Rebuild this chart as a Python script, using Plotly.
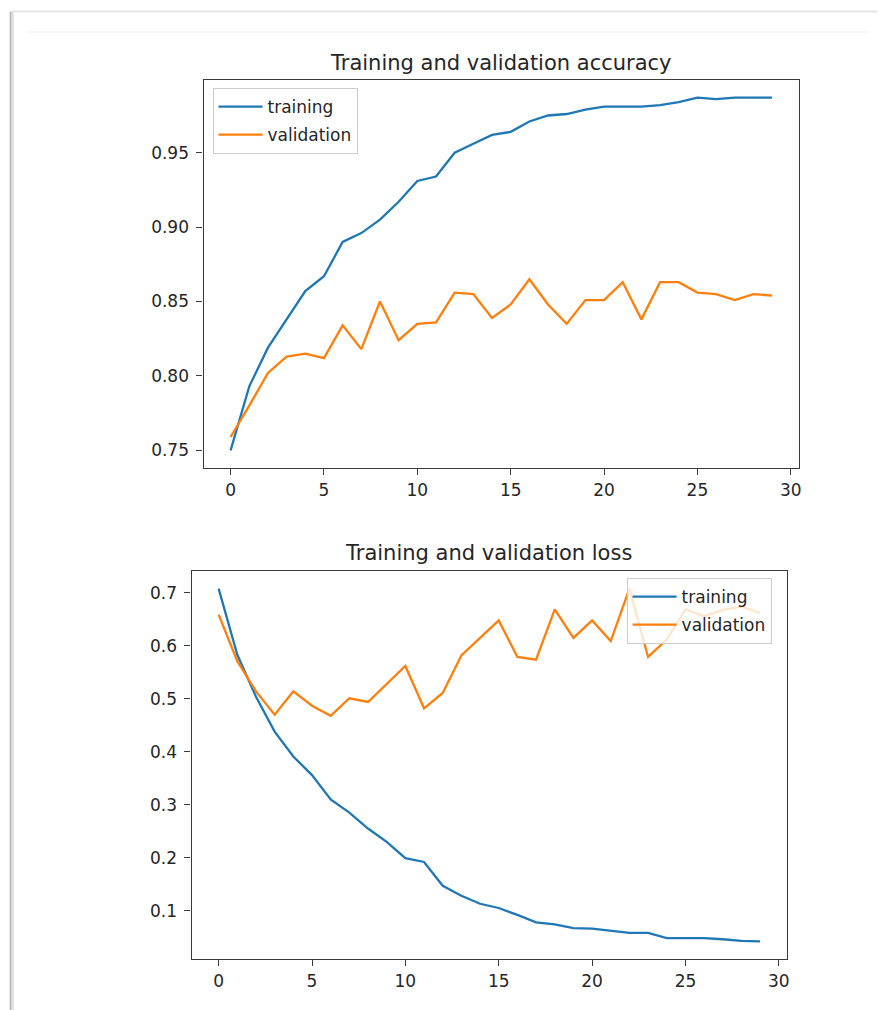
import plotly.graph_objects as go

epochs = list(range(30))

train_acc = [0.750, 0.793, 0.819, 0.838, 0.857, 0.867, 0.890, 0.896, 0.905, 0.917,
             0.931, 0.934, 0.950, 0.956, 0.962, 0.964, 0.971, 0.975, 0.976, 0.979,
             0.981, 0.981, 0.981, 0.982, 0.984, 0.987, 0.986, 0.987, 0.987, 0.987]
val_acc = [0.759, 0.780, 0.802, 0.813, 0.815, 0.812, 0.834, 0.818, 0.850, 0.824,
           0.835, 0.836, 0.856, 0.855, 0.839, 0.848, 0.865, 0.848, 0.835, 0.851,
           0.851, 0.863, 0.838, 0.863, 0.863, 0.856, 0.855, 0.851, 0.855, 0.854]

train_loss = [0.708, 0.583, 0.504, 0.438, 0.391, 0.356, 0.310, 0.285, 0.255, 0.230,
              0.199, 0.192, 0.147, 0.128, 0.113, 0.105, 0.092, 0.078, 0.074, 0.067,
              0.066, 0.062, 0.058, 0.058, 0.048, 0.048, 0.048, 0.046, 0.043, 0.042]
val_loss = [0.659, 0.571, 0.514, 0.470, 0.514, 0.487, 0.468, 0.501, 0.494, 0.528,
            0.562, 0.482, 0.511, 0.582, 0.615, 0.648, 0.579, 0.574, 0.669, 0.615,
            0.648, 0.609, 0.708, 0.579, 0.612, 0.669, 0.656, 0.668, 0.674, 0.662]

x_ticks = [0, 5, 10, 15, 20, 25, 30]
acc_ticks = [0.75, 0.80, 0.85, 0.90, 0.95]
loss_ticks = [0.1, 0.2, 0.3, 0.4, 0.5, 0.6, 0.7]

W, H = 879, 1010
BLUE = "#1f77b4"
ORANGE = "#ff7f0e"
FONT = "DejaVu Sans"
TXT = "#262626"
AX = "#3a3a3a"


def px(x):
    return x / W


def py(y):
    return 1 - y / H


def rng(vals):
    lo, hi = min(vals), max(vals)
    m = (hi - lo) * 0.05
    return [lo - m, hi + m]


fig = go.Figure()

series = [
    (train_acc, "training", BLUE, "x", "y", "legend", "a1"),
    (val_acc, "validation", ORANGE, "x", "y", "legend", "a2"),
    (train_loss, "training", BLUE, "x2", "y2", "legend2", "l1"),
    (val_loss, "validation", ORANGE, "x2", "y2", "legend2", "l2"),
]
for vals, name, color, xa, ya, lg, grp in series:
    fig.add_trace(go.Scatter(x=epochs, y=vals, name=name, mode="lines",
                             line=dict(color=color, width=2.3), xaxis=xa, yaxis=ya,
                             legend=lg, legendgroup=grp))

axis_common = dict(showgrid=False, zeroline=False, showline=True, linecolor=AX,
                   linewidth=1.3, mirror=True, ticks="outside", ticklen=6,
                   tickwidth=1.3, tickcolor=AX,
                   tickfont=dict(family=FONT, size=17, color=TXT))

xr = [-1.45, 30.45]

legend_common = dict(xanchor="left", yanchor="top",
                     bgcolor="rgba(255,255,255,0.8)", bordercolor="#cccccc",
                     borderwidth=1, font=dict(family=FONT, size=17, color=TXT),
                     tracegroupgap=3, itemwidth=44, entrywidth=102,
                     entrywidthmode="pixels", itemclick=False,
                     itemdoubleclick=False)

fig.update_layout(
    width=W, height=H,
    margin=dict(l=0, r=0, t=0, b=0),
    paper_bgcolor="white", plot_bgcolor="white",
    font=dict(family=FONT, size=17, color=TXT),
    xaxis=dict(domain=[px(204), px(801)], range=xr, tickvals=x_ticks,
               anchor="y", **axis_common),
    yaxis=dict(domain=[py(468), py(80)], range=rng(train_acc + val_acc),
               tickvals=acc_ticks, tickformat=".2f", anchor="x",
               ticklabelstandoff=4, **axis_common),
    xaxis2=dict(domain=[px(192), px(789)], range=xr, tickvals=x_ticks,
                anchor="y2", **axis_common),
    yaxis2=dict(domain=[py(959), py(571)], range=rng(train_loss + val_loss),
                tickvals=loss_ticks, tickformat=".1f", anchor="x2",
                ticklabelstandoff=4, **axis_common),
    legend=dict(x=px(213), y=py(88), **legend_common),
    legend2=dict(x=px(628), y=py(578), **legend_common),
    annotations=[
        dict(text="Training and validation accuracy", x=px(502), y=py(63),
             xref="paper", yref="paper", xanchor="center", yanchor="middle",
             showarrow=False, font=dict(family=FONT, size=21, color=TXT)),
        dict(text="Training and validation loss", x=px(490), y=py(553),
             xref="paper", yref="paper", xanchor="center", yanchor="middle",
             showarrow=False, font=dict(family=FONT, size=21, color=TXT)),
    ],
    shapes=[
        dict(type="line", xref="paper", yref="paper", x0=px(10), x1=1,
             y0=py(11.5), y1=py(11.5), line=dict(color="#e6e6e6", width=2)),
        dict(type="line", xref="paper", yref="paper", x0=px(28), x1=px(870),
             y0=py(32), y1=py(32), line=dict(color="#f2f2f2", width=1.5)),
        dict(type="line", xref="paper", yref="paper", x0=px(12), x1=px(12),
             y0=py(12), y1=0, line=dict(color="#e2e2e2", width=4)),
        dict(type="line", xref="paper", yref="paper", x0=px(10.5), x1=px(10.5),
             y0=py(12), y1=0, line=dict(color="#b5b5b5", width=1.5)),
    ],
    showlegend=True,
)

fig.write_html("out.html", config={"displayModeBar": False},
               post_script="document.body.style.margin='0';document.body.style.overflow='hidden';")
